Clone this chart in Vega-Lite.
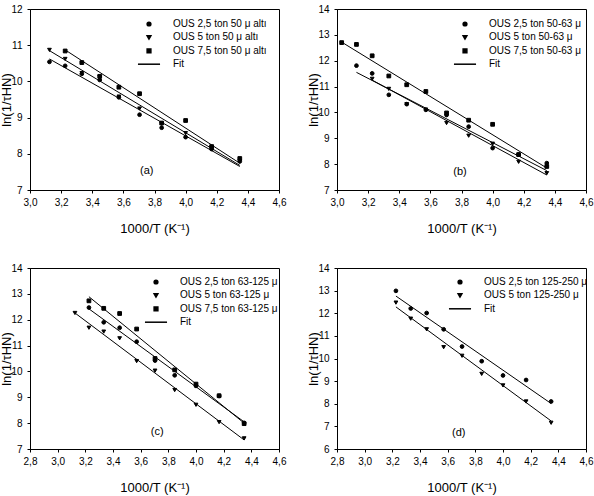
{
  "$schema": "https://vega.github.io/schema/vega-lite/v6.json",
  "background": "white",
  "padding": {"left": 0, "top": 3, "right": 0, "bottom": 0},
  "config": {
    "font": "Liberation Sans",
    "view": {"stroke": "black", "strokeWidth": 1},
    "axis": {"domainColor": "black", "tickColor": "black", "tickSize": 3, "labelFontSize": 10, "labelColor": "black", "titleFontSize": 13, "titleFontWeight": "normal", "titleColor": "black", "grid": false, "labelFont": "Liberation Sans", "titleFont": "Liberation Sans", "labelOverlap": false, "labelFlush": false, "tickCount": 30},
    "axisX": {"labelPadding": 4, "titlePadding": 15},
    "axisY": {"labelPadding": 5, "titlePadding": -3, "format": ".0f"},
    "legend": {"orient": "none", "title": null, "symbolSize": 14, "labelFontSize": 10, "labelOffset": 19, "rowPadding": 3.4, "padding": 0, "labelColor": "black", "labelFont": "Liberation Sans"}
  },
  "columns": 2,
  "spacing": {"row": 78, "column": 58},
  "bounds": "flush",
  "resolve": {"scale": {"shape": "independent"}, "legend": {"shape": "independent"}},
  "concat": [
    {
      "width": 249, "height": 181,
      "layer": [
        {
          "data": {"values": [
            {"series": "OUS 2,5 ton 50 μ altı", "x": 3.125, "y": 10.62}, {"series": "OUS 2,5 ton 50 μ altı", "x": 4.348, "y": 7.65},
            {"series": "OUS 5 ton 50 μ altı", "x": 3.125, "y": 10.85}, {"series": "OUS 5 ton 50 μ altı", "x": 4.348, "y": 7.68},
            {"series": "OUS 7,5 ton 50 μ altı", "x": 3.226, "y": 10.87}, {"series": "OUS 7,5 ton 50 μ altı", "x": 4.348, "y": 7.74}
          ]},
          "mark": {"type": "line", "color": "black", "strokeWidth": 1},
          "encoding": {
            "x": {"field": "x", "type": "quantitative", "scale": {"domain": [3.0, 4.6], "nice": false, "zero": false}, "axis": {"title": "1000/T (K⁻¹)", "values": [3.0, 3.2, 3.4, 3.6, 3.8, 4.0, 4.2, 4.4, 4.6], "tickCount": 30, "labelOverlap": false, "labelExpr": "replace(format(datum.value,'.1f'),'.',',')"}},
            "y": {"field": "y", "type": "quantitative", "scale": {"domain": [7, 12], "nice": false, "zero": false}, "axis": {"title": "ln(1/τHN)", "values": [7, 8, 9, 10, 11, 12], "tickCount": 30, "labelOverlap": false, "format": ".0f"}},
            "detail": {"field": "series"}
          }
        },
        {
          "data": {"values": [
            {"series": "OUS 2,5 ton 50 μ altı", "x": 3.125, "y": 10.54}, {"series": "OUS 2,5 ton 50 μ altı", "x": 3.226, "y": 10.43}, {"series": "OUS 2,5 ton 50 μ altı", "x": 3.333, "y": 10.21}, {"series": "OUS 2,5 ton 50 μ altı", "x": 3.448, "y": 10.04}, {"series": "OUS 2,5 ton 50 μ altı", "x": 3.571, "y": 9.56}, {"series": "OUS 2,5 ton 50 μ altı", "x": 3.704, "y": 9.08}, {"series": "OUS 2,5 ton 50 μ altı", "x": 3.846, "y": 8.72}, {"series": "OUS 2,5 ton 50 μ altı", "x": 4.0, "y": 8.46}, {"series": "OUS 2,5 ton 50 μ altı", "x": 4.167, "y": 8.13}, {"series": "OUS 2,5 ton 50 μ altı", "x": 4.348, "y": 7.79},
            {"series": "OUS 5 ton 50 μ altı", "x": 3.125, "y": 10.87}, {"series": "OUS 5 ton 50 μ altı", "x": 3.226, "y": 10.62}, {"series": "OUS 5 ton 50 μ altı", "x": 3.333, "y": 10.23}, {"series": "OUS 5 ton 50 μ altı", "x": 3.448, "y": 10.12}, {"series": "OUS 5 ton 50 μ altı", "x": 3.571, "y": 9.58}, {"series": "OUS 5 ton 50 μ altı", "x": 3.704, "y": 9.25}, {"series": "OUS 5 ton 50 μ altı", "x": 3.846, "y": 8.83}, {"series": "OUS 5 ton 50 μ altı", "x": 4.0, "y": 8.57}, {"series": "OUS 5 ton 50 μ altı", "x": 4.167, "y": 8.16}, {"series": "OUS 5 ton 50 μ altı", "x": 4.348, "y": 7.81},
            {"series": "OUS 7,5 ton 50 μ altı", "x": 3.226, "y": 10.84}, {"series": "OUS 7,5 ton 50 μ altı", "x": 3.333, "y": 10.52}, {"series": "OUS 7,5 ton 50 μ altı", "x": 3.448, "y": 10.14}, {"series": "OUS 7,5 ton 50 μ altı", "x": 3.571, "y": 9.84}, {"series": "OUS 7,5 ton 50 μ altı", "x": 3.704, "y": 9.66}, {"series": "OUS 7,5 ton 50 μ altı", "x": 3.846, "y": 8.85}, {"series": "OUS 7,5 ton 50 μ altı", "x": 4.0, "y": 8.92}, {"series": "OUS 7,5 ton 50 μ altı", "x": 4.167, "y": 8.20}, {"series": "OUS 7,5 ton 50 μ altı", "x": 4.348, "y": 7.87}
          ]},
          "mark": {"type": "point", "filled": true, "color": "black", "stroke": "black", "strokeWidth": 1, "opacity": 1, "size": 14},
          "encoding": {
            "x": {"field": "x", "type": "quantitative", "scale": {"domain": [3.0, 4.6], "nice": false, "zero": false}},
            "y": {"field": "y", "type": "quantitative", "scale": {"domain": [7, 12], "nice": false, "zero": false}},
            "shape": {"field": "series", "type": "nominal",
              "scale": {"domain": ["OUS 2,5 ton 50 μ altı", "OUS 5 ton 50 μ altı", "OUS 7,5 ton 50 μ altı", "Fit"], "range": ["circle", "triangle-down", "square", "M-5.9,0H5.9"]},
              "legend": {"legendX": 114, "legendY": 10}}
          }
        },
        {
          "data": {"values": [{"label": "(a)"}]},
          "mark": {"type": "text", "fontSize": 11, "color": "black"},
          "encoding": {
            "x": {"datum": 3.75, "type": "quantitative", "scale": {"domain": [3.0, 4.6], "nice": false, "zero": false}},
            "y": {"datum": 7.53, "type": "quantitative", "scale": {"domain": [7, 12], "nice": false, "zero": false}},
            "text": {"field": "label"}
          }
        }
      ]
    },
    {
      "width": 249, "height": 181,
      "layer": [
        {
          "data": {"values": [
            {"series": "OUS 2,5 ton 50-63 μ", "x": 3.125, "y": 11.55}, {"series": "OUS 2,5 ton 50-63 μ", "x": 4.348, "y": 7.75},
            {"series": "OUS 5 ton 50-63 μ", "x": 3.226, "y": 11.25}, {"series": "OUS 5 ton 50-63 μ", "x": 4.348, "y": 7.58},
            {"series": "OUS 7,5 ton 50-63 μ", "x": 3.030, "y": 12.72}, {"series": "OUS 7,5 ton 50-63 μ", "x": 4.348, "y": 7.85}
          ]},
          "mark": {"type": "line", "color": "black", "strokeWidth": 1},
          "encoding": {
            "x": {"field": "x", "type": "quantitative", "scale": {"domain": [3.0, 4.6], "nice": false, "zero": false}, "axis": {"title": "1000/T (K⁻¹)", "values": [3.0, 3.2, 3.4, 3.6, 3.8, 4.0, 4.2, 4.4, 4.6], "tickCount": 30, "labelOverlap": false, "labelExpr": "replace(format(datum.value,'.1f'),'.',',')"}},
            "y": {"field": "y", "type": "quantitative", "scale": {"domain": [7, 14], "nice": false, "zero": false}, "axis": {"title": "ln(1/τHN)", "values": [7, 8, 9, 10, 11, 12, 13, 14], "tickCount": 30, "labelOverlap": false, "format": ".0f"}},
            "detail": {"field": "series"}
          }
        },
        {
          "data": {"values": [
            {"series": "OUS 2,5 ton 50-63 μ", "x": 3.125, "y": 11.81}, {"series": "OUS 2,5 ton 50-63 μ", "x": 3.226, "y": 11.51}, {"series": "OUS 2,5 ton 50-63 μ", "x": 3.333, "y": 10.68}, {"series": "OUS 2,5 ton 50-63 μ", "x": 3.448, "y": 10.32}, {"series": "OUS 2,5 ton 50-63 μ", "x": 3.571, "y": 10.10}, {"series": "OUS 2,5 ton 50-63 μ", "x": 3.704, "y": 9.90}, {"series": "OUS 2,5 ton 50-63 μ", "x": 3.846, "y": 9.45}, {"series": "OUS 2,5 ton 50-63 μ", "x": 4.0, "y": 8.62}, {"series": "OUS 2,5 ton 50-63 μ", "x": 4.167, "y": 8.37}, {"series": "OUS 2,5 ton 50-63 μ", "x": 4.348, "y": 8.04},
            {"series": "OUS 5 ton 50-63 μ", "x": 3.226, "y": 11.30}, {"series": "OUS 5 ton 50-63 μ", "x": 3.333, "y": 10.91}, {"series": "OUS 5 ton 50-63 μ", "x": 3.448, "y": 10.32}, {"series": "OUS 5 ton 50-63 μ", "x": 3.571, "y": 10.11}, {"series": "OUS 5 ton 50-63 μ", "x": 3.704, "y": 9.59}, {"series": "OUS 5 ton 50-63 μ", "x": 3.846, "y": 9.10}, {"series": "OUS 5 ton 50-63 μ", "x": 4.0, "y": 8.79}, {"series": "OUS 5 ton 50-63 μ", "x": 4.167, "y": 8.09}, {"series": "OUS 5 ton 50-63 μ", "x": 4.348, "y": 7.65},
            {"series": "OUS 7,5 ton 50-63 μ", "x": 3.030, "y": 12.70}, {"series": "OUS 7,5 ton 50-63 μ", "x": 3.125, "y": 12.63}, {"series": "OUS 7,5 ton 50-63 μ", "x": 3.226, "y": 12.19}, {"series": "OUS 7,5 ton 50-63 μ", "x": 3.333, "y": 11.41}, {"series": "OUS 7,5 ton 50-63 μ", "x": 3.448, "y": 11.07}, {"series": "OUS 7,5 ton 50-63 μ", "x": 3.571, "y": 10.81}, {"series": "OUS 7,5 ton 50-63 μ", "x": 3.704, "y": 9.98}, {"series": "OUS 7,5 ton 50-63 μ", "x": 3.846, "y": 9.70}, {"series": "OUS 7,5 ton 50-63 μ", "x": 4.0, "y": 9.54}, {"series": "OUS 7,5 ton 50-63 μ", "x": 4.167, "y": 8.37}, {"series": "OUS 7,5 ton 50-63 μ", "x": 4.348, "y": 7.91}
          ]},
          "mark": {"type": "point", "filled": true, "color": "black", "stroke": "black", "strokeWidth": 1, "opacity": 1, "size": 14},
          "encoding": {
            "x": {"field": "x", "type": "quantitative", "scale": {"domain": [3.0, 4.6], "nice": false, "zero": false}},
            "y": {"field": "y", "type": "quantitative", "scale": {"domain": [7, 14], "nice": false, "zero": false}},
            "shape": {"field": "series", "type": "nominal",
              "scale": {"domain": ["OUS 2,5 ton 50-63 μ", "OUS 5 ton 50-63 μ", "OUS 7,5 ton 50-63 μ", "Fit"], "range": ["circle", "triangle-down", "square", "M-5.9,0H5.9"]},
              "legend": {"legendX": 123, "legendY": 10}}
          }
        },
        {
          "data": {"values": [{"label": "(b)"}]},
          "mark": {"type": "text", "fontSize": 11, "color": "black"},
          "encoding": {
            "x": {"datum": 3.79, "type": "quantitative", "scale": {"domain": [3.0, 4.6], "nice": false, "zero": false}},
            "y": {"datum": 7.71, "type": "quantitative", "scale": {"domain": [7, 14], "nice": false, "zero": false}},
            "text": {"field": "label"}
          }
        }
      ]
    },
    {
      "width": 249, "height": 181,
      "layer": [
        {
          "data": {"values": [
            {"series": "OUS 2,5 ton 63-125 μ", "x": 3.226, "y": 12.42}, {"series": "OUS 2,5 ton 63-125 μ", "x": 4.348, "y": 8.05},
            {"series": "OUS 5 ton 63-125 μ", "x": 3.125, "y": 12.26}, {"series": "OUS 5 ton 63-125 μ", "x": 4.348, "y": 7.35},
            {"series": "OUS 7,5 ton 63-125 μ", "x": 3.226, "y": 12.89}, {"series": "OUS 7,5 ton 63-125 μ", "x": 4.348, "y": 8.0}
          ]},
          "mark": {"type": "line", "color": "black", "strokeWidth": 1},
          "encoding": {
            "x": {"field": "x", "type": "quantitative", "scale": {"domain": [2.8, 4.6], "nice": false, "zero": false}, "axis": {"title": "1000/T (K⁻¹)", "values": [2.8, 3.0, 3.2, 3.4, 3.6, 3.8, 4.0, 4.2, 4.4, 4.6], "tickCount": 30, "labelOverlap": false, "labelExpr": "replace(format(datum.value,'.1f'),'.',',')"}},
            "y": {"field": "y", "type": "quantitative", "scale": {"domain": [7, 14], "nice": false, "zero": false}, "axis": {"title": "ln(1/τHN)", "values": [7, 8, 9, 10, 11, 12, 13, 14], "tickCount": 30, "labelOverlap": false, "format": ".0f"}},
            "detail": {"field": "series"}
          }
        },
        {
          "data": {"values": [
            {"series": "OUS 2,5 ton 63-125 μ", "x": 3.226, "y": 12.47}, {"series": "OUS 2,5 ton 63-125 μ", "x": 3.333, "y": 11.90}, {"series": "OUS 2,5 ton 63-125 μ", "x": 3.448, "y": 11.69}, {"series": "OUS 2,5 ton 63-125 μ", "x": 3.571, "y": 11.15}, {"series": "OUS 2,5 ton 63-125 μ", "x": 3.704, "y": 10.42}, {"series": "OUS 2,5 ton 63-125 μ", "x": 3.846, "y": 9.85}, {"series": "OUS 2,5 ton 63-125 μ", "x": 4.0, "y": 9.44}, {"series": "OUS 2,5 ton 63-125 μ", "x": 4.167, "y": 9.05}, {"series": "OUS 2,5 ton 63-125 μ", "x": 4.348, "y": 8.01},
            {"series": "OUS 5 ton 63-125 μ", "x": 3.125, "y": 12.26}, {"series": "OUS 5 ton 63-125 μ", "x": 3.226, "y": 11.69}, {"series": "OUS 5 ton 63-125 μ", "x": 3.333, "y": 11.54}, {"series": "OUS 5 ton 63-125 μ", "x": 3.448, "y": 11.28}, {"series": "OUS 5 ton 63-125 μ", "x": 3.571, "y": 10.40}, {"series": "OUS 5 ton 63-125 μ", "x": 3.704, "y": 10.03}, {"series": "OUS 5 ton 63-125 μ", "x": 3.846, "y": 9.28}, {"series": "OUS 5 ton 63-125 μ", "x": 4.0, "y": 8.71}, {"series": "OUS 5 ton 63-125 μ", "x": 4.167, "y": 8.04}, {"series": "OUS 5 ton 63-125 μ", "x": 4.348, "y": 7.41},
            {"series": "OUS 7,5 ton 63-125 μ", "x": 3.226, "y": 12.73}, {"series": "OUS 7,5 ton 63-125 μ", "x": 3.333, "y": 12.44}, {"series": "OUS 7,5 ton 63-125 μ", "x": 3.448, "y": 12.24}, {"series": "OUS 7,5 ton 63-125 μ", "x": 3.571, "y": 11.64}, {"series": "OUS 7,5 ton 63-125 μ", "x": 3.704, "y": 10.50}, {"series": "OUS 7,5 ton 63-125 μ", "x": 3.846, "y": 10.06}, {"series": "OUS 7,5 ton 63-125 μ", "x": 4.0, "y": 9.51}, {"series": "OUS 7,5 ton 63-125 μ", "x": 4.167, "y": 9.06}, {"series": "OUS 7,5 ton 63-125 μ", "x": 4.348, "y": 7.98}
          ]},
          "mark": {"type": "point", "filled": true, "color": "black", "stroke": "black", "strokeWidth": 1, "opacity": 1, "size": 14},
          "encoding": {
            "x": {"field": "x", "type": "quantitative", "scale": {"domain": [2.8, 4.6], "nice": false, "zero": false}},
            "y": {"field": "y", "type": "quantitative", "scale": {"domain": [7, 14], "nice": false, "zero": false}},
            "shape": {"field": "series", "type": "nominal",
              "scale": {"domain": ["OUS 2,5 ton 63-125 μ", "OUS 5 ton 63-125 μ", "OUS 7,5 ton 63-125 μ", "Fit"], "range": ["circle", "triangle-down", "square", "M-5.9,0H5.9"]},
              "legend": {"legendX": 121, "legendY": 9}}
          }
        },
        {
          "data": {"values": [{"label": "(c)"}]},
          "mark": {"type": "text", "fontSize": 11, "color": "black"},
          "encoding": {
            "x": {"datum": 3.72, "type": "quantitative", "scale": {"domain": [2.8, 4.6], "nice": false, "zero": false}},
            "y": {"datum": 7.65, "type": "quantitative", "scale": {"domain": [7, 14], "nice": false, "zero": false}},
            "text": {"field": "label"}
          }
        }
      ]
    },
    {
      "width": 249, "height": 181,
      "layer": [
        {
          "data": {"values": [
            {"series": "OUS 2,5 ton 125-250 μ", "x": 3.226, "y": 12.76}, {"series": "OUS 2,5 ton 125-250 μ", "x": 4.348, "y": 8.01},
            {"series": "OUS 5 ton 125-250 μ", "x": 3.226, "y": 12.28}, {"series": "OUS 5 ton 125-250 μ", "x": 4.348, "y": 7.24}
          ]},
          "mark": {"type": "line", "color": "black", "strokeWidth": 1},
          "encoding": {
            "x": {"field": "x", "type": "quantitative", "scale": {"domain": [2.8, 4.6], "nice": false, "zero": false}, "axis": {"title": "1000/T (K⁻¹)", "values": [2.8, 3.0, 3.2, 3.4, 3.6, 3.8, 4.0, 4.2, 4.4, 4.6], "tickCount": 30, "labelOverlap": false, "labelExpr": "replace(format(datum.value,'.1f'),'.',',')"}},
            "y": {"field": "y", "type": "quantitative", "scale": {"domain": [6, 14], "nice": false, "zero": false}, "axis": {"title": "ln(1/τHN)", "values": [6, 7, 8, 9, 10, 11, 12, 13, 14], "tickCount": 30, "labelOverlap": false, "format": ".0f"}},
            "detail": {"field": "series"}
          }
        },
        {
          "data": {"values": [
            {"series": "OUS 2,5 ton 125-250 μ", "x": 3.226, "y": 12.99}, {"series": "OUS 2,5 ton 125-250 μ", "x": 3.333, "y": 12.21}, {"series": "OUS 2,5 ton 125-250 μ", "x": 3.448, "y": 12.01}, {"series": "OUS 2,5 ton 125-250 μ", "x": 3.571, "y": 11.29}, {"series": "OUS 2,5 ton 125-250 μ", "x": 3.704, "y": 10.53}, {"series": "OUS 2,5 ton 125-250 μ", "x": 3.846, "y": 9.88}, {"series": "OUS 2,5 ton 125-250 μ", "x": 4.0, "y": 9.25}, {"series": "OUS 2,5 ton 125-250 μ", "x": 4.167, "y": 9.05}, {"series": "OUS 2,5 ton 125-250 μ", "x": 4.348, "y": 8.10},
            {"series": "OUS 5 ton 125-250 μ", "x": 3.226, "y": 12.47}, {"series": "OUS 5 ton 125-250 μ", "x": 3.333, "y": 11.76}, {"series": "OUS 5 ton 125-250 μ", "x": 3.448, "y": 11.29}, {"series": "OUS 5 ton 125-250 μ", "x": 3.571, "y": 10.50}, {"series": "OUS 5 ton 125-250 μ", "x": 3.704, "y": 10.12}, {"series": "OUS 5 ton 125-250 μ", "x": 3.846, "y": 9.32}, {"series": "OUS 5 ton 125-250 μ", "x": 4.0, "y": 8.81}, {"series": "OUS 5 ton 125-250 μ", "x": 4.167, "y": 8.10}, {"series": "OUS 5 ton 125-250 μ", "x": 4.348, "y": 7.16}
          ]},
          "mark": {"type": "point", "filled": true, "color": "black", "stroke": "black", "strokeWidth": 1, "opacity": 1, "size": 14},
          "encoding": {
            "x": {"field": "x", "type": "quantitative", "scale": {"domain": [2.8, 4.6], "nice": false, "zero": false}},
            "y": {"field": "y", "type": "quantitative", "scale": {"domain": [6, 14], "nice": false, "zero": false}},
            "shape": {"field": "series", "type": "nominal",
              "scale": {"domain": ["OUS 2,5 ton 125-250 μ", "OUS 5 ton 125-250 μ", "Fit"], "range": ["circle", "triangle-down", "M-5.9,0H5.9"]},
              "legend": {"legendX": 118, "legendY": 9}}
          }
        },
        {
          "data": {"values": [{"label": "(d)"}]},
          "mark": {"type": "text", "fontSize": 11, "color": "black"},
          "encoding": {
            "x": {"datum": 3.68, "type": "quantitative", "scale": {"domain": [2.8, 4.6], "nice": false, "zero": false}},
            "y": {"datum": 6.70, "type": "quantitative", "scale": {"domain": [6, 14], "nice": false, "zero": false}},
            "text": {"field": "label"}
          }
        }
      ]
    }
  ]
}
